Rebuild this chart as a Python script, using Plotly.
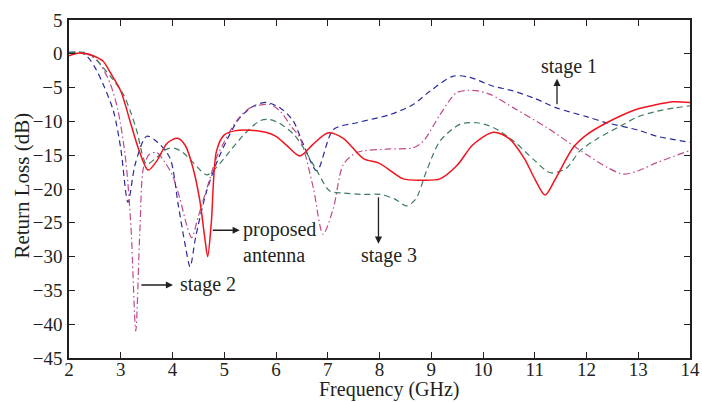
import plotly.graph_objects as go

# ---- data ----
red_x = [2.0, 2.2, 2.35, 2.5, 2.66, 2.8, 3.0, 3.2, 3.35, 3.53, 3.7, 3.9, 4.1, 4.25, 4.4, 4.53, 4.62, 4.68, 4.75, 4.85, 5.0, 5.2, 5.5, 5.8, 6.0, 6.2, 6.46, 6.7, 7.0, 7.3, 7.69, 8.0, 8.46, 8.8, 9.17, 9.5, 9.8, 10.2, 10.5, 10.8, 11.0, 11.2, 11.4, 11.74, 12.0, 12.39, 12.97, 13.3, 13.67, 14.0]
red_y = [-0.3, 0.1, 0.0, -0.4, -1.1, -2.8, -5.5, -10.5, -14.2, -17.2, -15.8, -13.2, -12.5, -13.6, -17.0, -21.8, -27.0, -30.0, -25.0, -14.4, -12.0, -11.4, -11.3, -11.6, -12.2, -13.5, -15.1, -13.5, -11.7, -12.5, -15.5, -16.2, -18.5, -18.7, -18.5, -16.5, -13.5, -11.6, -12.5, -15.5, -18.5, -20.9, -18.5, -13.9, -12.0, -10.2, -8.2, -7.6, -7.1, -7.2]

blue_x = [2.0, 2.2, 2.34, 2.5, 2.66, 2.86, 3.0, 3.14, 3.28, 3.5, 3.7, 3.95, 4.11, 4.25, 4.34, 4.45, 4.66, 4.92, 5.3, 5.6, 5.82, 6.08, 6.33, 6.53, 6.79, 7.11, 7.56, 8.2, 8.65, 8.98, 9.43, 9.75, 10.2, 10.59, 11.0, 11.42, 12.0, 12.39, 13.0, 13.36, 14.0]
blue_y = [0.2, 0.2, -0.3, -2.0, -4.5, -8.5, -14.0, -22.0, -16.3, -12.2, -13.0, -15.4, -22.3, -28.5, -31.5, -27.0, -20.3, -14.9, -9.45, -7.6, -7.2, -8.0, -9.9, -13.4, -17.3, -11.2, -10.2, -9.0, -7.5, -5.5, -3.3, -3.5, -4.8, -5.5, -6.6, -8.0, -9.3, -10.2, -11.3, -12.2, -13.1]

pink_x = [2.0, 2.2, 2.4, 2.6, 2.8, 2.95, 3.1, 3.2, 3.29, 3.37, 3.44, 3.55, 3.69, 3.85, 4.0, 4.14, 4.28, 4.37, 4.5, 4.7, 4.85, 5.0, 5.24, 5.5, 5.88, 6.08, 6.3, 6.46, 6.72, 6.91, 7.11, 7.3, 7.56, 8.14, 8.65, 8.85, 9.17, 9.49, 9.81, 10.14, 10.59, 11.23, 12.0, 12.4, 12.71, 13.0, 13.36, 14.0]
pink_y = [0.1, 0.2, -0.2, -1.5, -4.5, -8.5, -16.0, -26.0, -41.0, -26.0, -16.8, -14.9, -14.6, -16.0, -18.0, -21.3, -25.5, -27.2, -24.0, -19.0, -15.4, -13.0, -9.9, -8.0, -7.5, -8.5, -10.8, -12.4, -19.8, -26.7, -22.8, -16.4, -14.6, -14.1, -13.9, -12.9, -9.0, -5.75, -5.4, -6.0, -8.0, -10.9, -14.9, -16.8, -17.8, -17.3, -16.1, -14.3]

green_x = [2.0, 2.3, 2.5, 2.66, 2.85, 3.05, 3.2, 3.31, 3.5, 3.7, 3.89, 4.05, 4.2, 4.4, 4.66, 4.85, 5.11, 5.4, 5.69, 5.85, 6.05, 6.34, 6.53, 6.79, 7.04, 7.3, 7.69, 8.01, 8.3, 8.52, 8.7, 8.91, 9.17, 9.56, 9.88, 10.2, 10.59, 11.0, 11.3, 11.6, 11.87, 12.2, 12.65, 13.0, 13.36, 13.7, 14.0]
green_y = [0.2, 0.2, -0.6, -2.05, -3.8, -6.0, -8.8, -11.4, -16.3, -15.3, -14.1, -14.0, -14.6, -16.1, -17.9, -16.8, -14.4, -11.8, -9.9, -9.7, -10.2, -11.9, -13.9, -17.3, -20.3, -20.6, -20.8, -20.8, -21.5, -22.5, -21.5, -17.3, -12.9, -10.4, -10.2, -10.9, -12.9, -15.8, -17.6, -17.0, -14.4, -12.6, -10.7, -9.3, -8.5, -8.0, -7.7]

x_ticks = [2, 3, 4, 5, 6, 7, 8, 9, 10, 11, 12, 13, 14]
y_ticks = [5, 0, -5, -10, -15, -20, -25, -30, -35, -40, -45]

FONT = "Liberation Serif"
INK = "#231f20"

fig = go.Figure()
fig.add_trace(go.Scatter(x=blue_x, y=blue_y, mode="lines", name="stage 1",
                         line=dict(color="#2b2b9c", width=1.2, dash="6px,4px", shape="spline", smoothing=0.8)))
fig.add_trace(go.Scatter(x=pink_x, y=pink_y, mode="lines", name="stage 2",
                         line=dict(color="#c04a8c", width=1.2, dash="7px,3px,1.5px,3px", shape="spline", smoothing=0.8)))
fig.add_trace(go.Scatter(x=green_x, y=green_y, mode="lines", name="stage 3",
                         line=dict(color="#3c7c5c", width=1.2, dash="6px,4px", shape="spline", smoothing=0.8)))
fig.add_trace(go.Scatter(x=red_x, y=red_y, mode="lines", name="proposed antenna",
                         line=dict(color="#f0141e", width=1.5, shape="spline", smoothing=0.8)))

arrow = dict(showarrow=True, arrowhead=2, arrowsize=1.1, arrowwidth=1.3, arrowcolor=INK,
             axref="x", ayref="y", xref="x", yref="y", text="")
anns = [
    dict(x=11.43, y=-3.7, ax=11.43, ay=-7.7, **arrow),
    dict(x=5.30, y=-26.1, ax=4.75, ay=-26.1, **arrow),
    dict(x=4.01, y=-34.2, ax=3.37, ay=-34.2, **arrow),
    dict(x=7.98, y=-28.1, ax=7.98, ay=-21.0, **arrow),
]
tfont = dict(family=FONT, size=20, color=INK)
anns += [
    dict(x=11.66, y=-1.95, text="stage 1", showarrow=False, xanchor="center", yanchor="middle", font=tfont),
    dict(x=5.32, y=-27.8, text="proposed<br>antenna", showarrow=False, xanchor="left", yanchor="middle", align="left", font=tfont),
    dict(x=4.11, y=-34.2, text="stage 2", showarrow=False, xanchor="left", yanchor="middle", font=tfont),
    dict(x=8.18, y=-29.8, text="stage 3", showarrow=False, xanchor="center", yanchor="middle", font=tfont),
]
# axis titles
anns += [
    dict(x=8.2, xref="x", y=-0.092, yref="paper", text="Frequency (GHz)", showarrow=False,
         xanchor="center", yanchor="middle", font=dict(family=FONT, size=20, color=INK)),
    dict(x=-0.0757, xref="paper", y=0.51, yref="paper", text="Return Loss (dB)", showarrow=False,
         textangle=-90, xanchor="center", yanchor="middle", font=dict(family=FONT, size=21, color=INK)),
]

axis_common = dict(showline=True, linecolor=INK, linewidth=1.5, mirror="ticks",
                   ticks="inside", ticklen=6, tickwidth=1.3, tickcolor=INK,
                   showgrid=False, zeroline=False, automargin=False,
                   tickfont=dict(family=FONT, size=19, color=INK))

fig.update_layout(
    width=702, height=402,
    margin=dict(l=69, r=12, t=20, b=44),
    paper_bgcolor="white", plot_bgcolor="white",
    showlegend=False,
    annotations=anns,
    xaxis=dict(range=[2, 14], tickvals=x_ticks, ticklabelstandoff=-7, **axis_common),
    yaxis=dict(range=[-45, 5], tickvals=y_ticks, ticklabelstandoff=1, **axis_common),
)

fig.write_html("out.html")
